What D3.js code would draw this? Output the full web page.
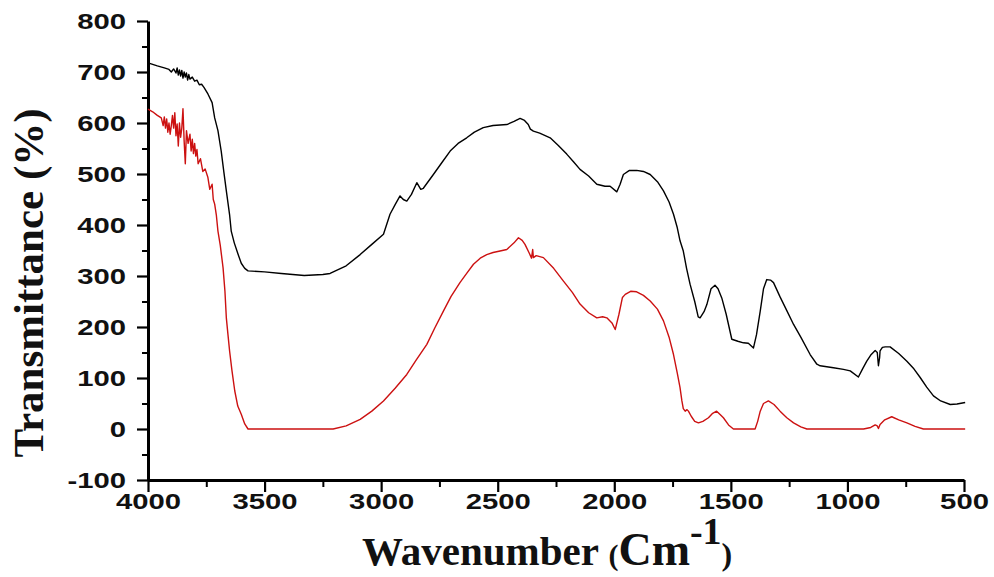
<!doctype html>
<html lang="en">
<head>
<meta charset="utf-8">
<title>FTIR spectra</title>
<script src="https://d3js.org/d3.v7.min.js"></script>
<style>
  body { margin: 0; background: #fff; }
  .tick text { font-family: "Liberation Sans", Arial, sans-serif; font-weight: bold; font-size: 22px; fill: #111; }
  .axis path, .axis line { stroke: #000; }
</style>
</head>
<body>
<svg id="chart" width="994" height="577"></svg>
<script>
// tick labels
var xTicks = [4000, 3500, 3000, 2500, 2000, 1500, 1000, 500];
var yTicks = [-100, 0, 100, 200, 300, 400, 500, 600, 700, 800];

// black spectrum (wavenumber / transmittance)
var blackWave = [4000, 3960, 3930, 3910, 3900, 3890, 3880, 3875, 3870, 3865, 3860, 3855, 3850, 3845, 3840, 3835, 3830, 3825,
  3820, 3810, 3800, 3790, 3780, 3770, 3760, 3743, 3725, 3714, 3700,
  3686, 3675, 3664, 3650, 3643, 3630, 3614, 3600, 3585, 3571, 3500, 3428, 3330, 3250, 3219, 3150, 3090, 3040, 2990, 2962,
  2940, 2919, 2905, 2890, 2870, 2847, 2830, 2819, 2776, 2740, 2704, 2670, 2633, 2600, 2562, 2520, 2490, 2461, 2430, 2404,
  2385, 2369, 2360, 2347, 2320, 2275, 2240, 2204, 2175, 2147, 2110, 2075, 2040, 2018, 1989, 1975, 1961, 1935, 1904, 1875,
  1846, 1815, 1789, 1765, 1746, 1730, 1718, 1704, 1690, 1675, 1655, 1640, 1632, 1615, 1603, 1585, 1568, 1555, 1539, 1520,
  1496, 1470, 1446, 1425, 1403, 1390, 1374, 1360, 1346, 1330, 1317, 1290, 1260, 1231, 1200, 1160, 1131, 1117, 1060, 1017,
  988, 953, 935, 917, 900, 881, 872, 867, 862, 860, 850, 838, 817, 780, 745, 715, 688, 660, 631, 600, 559, 530, 495];
var blackVal = [718, 712, 708, 705, 700, 706, 698, 708, 694, 704, 692, 703, 688, 700, 690, 698, 684, 695,
  686, 690, 682, 684, 675, 676, 670, 657, 640, 610, 585,
  545, 505, 467, 420, 388, 365, 343, 325, 315, 310, 308, 305, 301, 303, 305, 320, 342, 362, 382, 421,
  440, 457, 450, 447, 460, 483, 470, 472, 499, 522, 545, 560, 571, 582, 591, 595, 596, 597, 603, 609,
  605, 597, 588, 584, 580, 571, 556, 539, 524, 509, 496, 480, 476, 476, 465, 480, 499, 507, 507, 505,
  499, 485, 467, 445, 421, 395, 369, 349, 315, 284, 250, 220, 218, 230, 244, 275, 282, 275, 257, 225,
  176, 172, 169, 168, 159, 185, 231, 275, 293, 292, 287, 260, 232, 205, 180, 146, 127, 124, 120, 117,
  114, 102, 118, 133, 145, 154, 150, 124, 140, 153, 160, 161, 161, 148, 133, 118, 101, 82, 65, 55, 48, 49, 52];

// red spectrum (wavenumber / transmittance)
var redWave = [4000, 3980, 3960, 3943, 3935, 3930, 3925, 3920, 3915, 3910, 3905, 3900, 3895, 3890, 3885, 3880, 3875, 3870,
  3865, 3860, 3855, 3850, 3845, 3840, 3835, 3828, 3820, 3815, 3810, 3805, 3800, 3795, 3790, 3785, 3775, 3765, 3755, 3743,
  3735, 3725, 3720, 3714, 3707, 3700, 3690, 3678, 3670, 3664, 3657, 3650,
  3640, 3628, 3615, 3600, 3585, 3571, 3348, 3260, 3206, 3150, 3090, 3040, 2990, 2940, 2890, 2850, 2804, 2770, 2733, 2700,
  2662, 2630, 2604, 2575, 2547, 2520, 2490, 2461, 2430, 2411, 2395, 2383, 2365, 2355, 2350, 2347, 2335, 2304, 2260, 2218,
  2180, 2147, 2110, 2075, 2050, 2032, 2010, 1996, 1980, 1965, 1953, 1930, 1904, 1875, 1846, 1815, 1789, 1765, 1746, 1730,
  1718, 1710, 1704, 1696, 1688, 1682, 1670, 1655, 1639, 1620, 1596, 1580, 1561, 1545, 1532, 1510, 1489, 1396, 1385, 1374,
  1360, 1339, 1315, 1289, 1260, 1231, 1200, 1174, 931, 900, 881, 872, 867, 860, 840, 810, 780, 745, 710, 674, 495];
var redVal = [627, 622, 615, 610, 595, 612, 590, 608, 582, 600, 578, 595, 615, 590, 620, 575, 598, 555,
  600, 572, 590, 628, 565, 520, 585, 560, 578, 545, 568, 540, 560, 535, 548, 520, 530, 505, 510, 493,
  470, 480, 450, 441, 420, 388, 360, 316, 270, 218, 185, 153,
  115, 75, 45, 29, 10, 0, 0, 0, 0, 6, 19, 35, 55, 80, 107, 135, 166, 198, 231, 260,
  287, 307, 323, 335, 342, 346, 349, 352, 365, 375, 370, 362, 345, 335, 352, 336, 340, 336, 315, 290,
  268, 245, 228, 218, 220, 218, 208, 195, 225, 258, 264, 270, 269, 262, 251, 235, 212, 180, 146, 110,
  81, 55, 40, 35, 38, 35, 25, 15, 12, 15, 22, 30, 35, 28, 22, 8, 0, 0, 15, 35,
  50, 55, 48, 35, 22, 12, 4, 0, 0, 3, 8, 6, 1, 9, 18, 24, 18, 12, 5, 0, 0];

var svg = d3.select("#chart");

var x = d3.scaleLinear().domain([4000, 500]).range([148, 964]);
var y = d3.scaleLinear().domain([-100, 800]).range([480, 21]);

var plain = function(d) { return String(d); };

// minor ticks first, majors on top
svg.append("g")
    .attr("class", "axis")
    .attr("transform", "translate(0,480)")
    .call(d3.axisBottom(x).tickValues(d3.range(3750, 500, -500)).tickSize(7).tickSizeOuter(0).tickFormat(""))
    .call(function(g) { g.select(".domain").remove(); })
    .selectAll("line").attr("stroke-width", 2);

svg.append("g")
    .attr("class", "axis")
    .attr("transform", "translate(148,0)")
    .call(d3.axisLeft(y).tickValues(d3.range(-50, 800, 100)).tickSize(6).tickSizeOuter(0).tickFormat(""))
    .call(function(g) { g.select(".domain").remove(); })
    .selectAll("line").attr("stroke-width", 2);

var xAxis = svg.append("g")
    .attr("class", "axis")
    .attr("transform", "translate(0,480)")
    .call(d3.axisBottom(x).tickValues(xTicks).tickSize(12).tickSizeOuter(0).tickFormat(plain));
xAxis.select(".domain").attr("stroke-width", 3);
xAxis.selectAll("line").attr("stroke-width", 2.2);
xAxis.selectAll("text").attr("y", 13).attr("transform", "scale(1.33,1)");

var yAxis = svg.append("g")
    .attr("class", "axis")
    .attr("transform", "translate(148,0)")
    .call(d3.axisLeft(y).tickValues(yTicks).tickSize(11).tickSizeOuter(0).tickFormat(plain));
yAxis.select(".domain").attr("stroke-width", 3);
yAxis.selectAll("line").attr("stroke-width", 2.2);
yAxis.selectAll("text").attr("x", -22 / 1.33).attr("transform", "scale(1.33,1)");

var line = d3.line()
    .x(function(d) { return x(d[0]); })
    .y(function(d) { return y(d[1]); });

svg.append("path")
    .datum(d3.zip(blackWave, blackVal))
    .attr("fill", "none")
    .attr("stroke", "#000")
    .attr("stroke-width", 1.4)
    .attr("stroke-linejoin", "round")
    .attr("d", line);

svg.append("path")
    .datum(d3.zip(redWave, redVal))
    .attr("fill", "none")
    .attr("stroke", "#cc1111")
    .attr("stroke-width", 1.4)
    .attr("stroke-linejoin", "round")
    .attr("d", line);

// axis titles
svg.append("text")
    .attr("transform", "translate(43,283) rotate(-90)")
    .attr("text-anchor", "middle")
    .attr("font-family", "'Liberation Serif', 'Times New Roman', serif")
    .attr("font-weight", "bold")
    .attr("font-size", 43)
    .attr("fill", "#111")
    .text("Transmittance (%)");

var xt = svg.append("text")
    .attr("x", 362)
    .attr("y", 565)
    .attr("font-family", "'Liberation Serif', 'Times New Roman', serif")
    .attr("font-weight", "bold")
    .attr("font-size", 41)
    .attr("fill", "#111");
xt.append("tspan").text("Wavenumber ");
xt.append("tspan").attr("font-size", 30).text("(");
xt.append("tspan").attr("font-size", 46).text("Cm");
xt.append("tspan").attr("font-size", 38).attr("dy", -21).text("-1");
xt.append("tspan").attr("font-size", 32).attr("dy", 21).text(")");
</script>
</body>
</html>
